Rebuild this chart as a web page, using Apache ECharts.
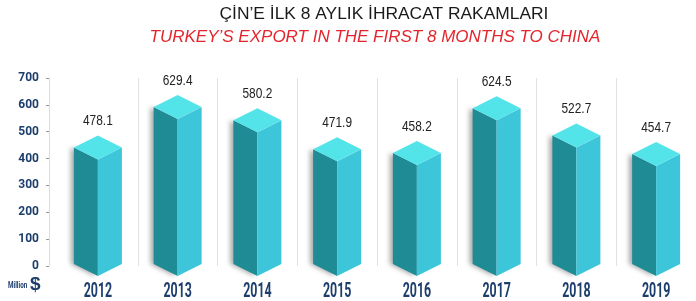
<!DOCTYPE html>
<html>
<head>
<meta charset="utf-8">
<script src="https://cdn.jsdelivr.net/npm/echarts@6/dist/echarts.min.js"></script>
<style>
html,body{margin:0;padding:0;background:#fff;}
#chart{width:696px;height:301px;}
</style>
</head>
<body>
<div id="chart"></div>
<script>
// ---- data ----
var titleText = 'ÇİN’E İLK 8 AYLIK İHRACAT RAKAMLARI';
var subtitleText = 'TURKEY’S EXPORT IN THE FIRST 8 MONTHS TO CHINA';
var years = ['2012', '2013', '2014', '2015', '2016', '2017', '2018', '2019'];
var exportValues = [478.1, 629.4, 580.2, 471.9, 458.2, 624.5, 522.7, 454.7];
var valueLabels = ['478.1', '629.4', '580.2', '471.9', '458.2', '624.5', '522.7', '454.7'];
var yTicks = [0, 100, 200, 300, 400, 500, 600, 700];
var unitSmall = 'Million';
var unitBig = '$';

var NAVY = '#1d3e6c';
var SANS = 'Liberation Sans';
var COND = 'Roboto';

var chart = echarts.init(document.getElementById('chart'), null, {renderer: 'canvas'});

var option = {
  backgroundColor: '#ffffff',
  animation: false,
  title: [
    {
      text: titleText, left: 384, top: 6, textAlign: 'center', padding: 0,
      textStyle: {fontSize: 17.4, fontWeight: 'normal', color: '#1a1a1a', fontFamily: SANS}
    },
    {
      text: subtitleText, left: 375, top: 29, textAlign: 'center', padding: 0,
      textStyle: {fontSize: 17, fontWeight: 'normal', fontStyle: 'italic', color: '#e3262d', fontFamily: SANS}
    }
  ],
  graphic: [
    {type: 'text', x: 8, y: 281, scaleX: 0.7, style: {text: unitSmall, fontSize: 9, fontWeight: 'bold', fill: NAVY, fontFamily: COND}},
    {type: 'text', x: 30, y: 275, style: {text: unitBig, fontSize: 19, fontWeight: 'bold', fill: NAVY, fontFamily: SANS}}
  ],
  grid: {left: 58, top: 78, width: 645, height: 188, containLabel: false},
  xAxis: {
    type: 'category',
    data: years,
    boundaryGap: true,
    axisLine: {show: false},
    axisTick: {show: false},
    axisLabel: {show: false},
    splitLine: {
      show: true,
      interval: function (index) { return index > 0; },
      lineStyle: {color: '#e2e2e2', width: 1}
    }
  },
  yAxis: {
    type: 'value',
    min: yTicks[0],
    max: yTicks[yTicks.length - 1],
    interval: yTicks[1] - yTicks[0],
    offset: 9,
    axisLine: {show: true, lineStyle: {color: '#dcdcdc', width: 1}},
    axisTick: {show: true, length: 3, lineStyle: {color: '#999'}},
    splitLine: {show: false},
    axisLabel: {
      margin: 10, fontSize: 12, fontWeight: 'bold', color: NAVY, fontFamily: COND
    }
  },
  series: [{
    type: 'custom',
    clip: false,
    data: exportValues.map(function (v, i) { return [i, v]; }),
    encode: {x: 0, y: 1},
    renderItem: function (params, api) {
      var idx = api.value(0);
      var v = api.value(1);
      var top = api.coord([idx, v]);
      var base = api.coord([idx, 0]);
      var cx = top[0];
      var w = 24, h = 12;
      var ty = top[1] - 2;
      var by = base[1] - 2;
      var leftFace = {
        type: 'polygon',
        shape: {points: [[cx - w, ty + h], [cx, ty + 2 * h], [cx, by + h], [cx - w, by]]},
        style: {fill: '#1f8b94', shadowBlur: 5, shadowOffsetX: -3, shadowOffsetY: 0, shadowColor: 'rgba(0,0,0,0.35)'}
      };
      var rightFace = {
        type: 'polygon',
        shape: {points: [[cx, ty + 2 * h], [cx + w, ty + h], [cx + w, by], [cx, by + h]]},
        style: {fill: '#3dc5da'}
      };
      var topFace = {
        type: 'polygon',
        shape: {points: [[cx, ty], [cx - w, ty + h], [cx, ty + 2 * h], [cx + w, ty + h]]},
        style: {fill: '#53e4ea'}
      };
      var valLabel = {
        type: 'text',
        x: cx, y: top[1] - 16,
        scaleX: 0.85,
        style: {
          text: valueLabels[params.dataIndex], x: 0, y: 0,
          align: 'center', verticalAlign: 'middle',
          fontSize: 14, fill: '#222', fontFamily: SANS
        }
      };
      var yearLabel = {
        type: 'text',
        x: cx, y: base[1] + 26,
        scaleX: 0.62,
        style: {
          text: years[params.dataIndex], x: 0, y: 0,
          align: 'center', verticalAlign: 'middle',
          fontSize: 20, fontWeight: 'bold', fill: NAVY, fontFamily: COND
        }
      };
      return {type: 'group', children: [leftFace, rightFace, topFace, valLabel, yearLabel]};
    }
  }]
};
chart.setOption(option);
</script>
</body>
</html>
